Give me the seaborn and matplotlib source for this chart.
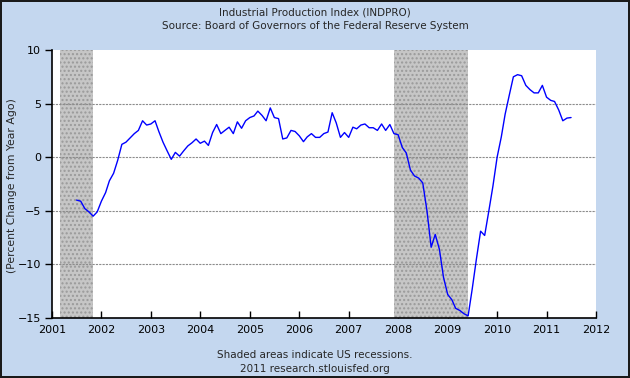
import matplotlib
matplotlib.use("Agg")
import matplotlib.pyplot as plt
import matplotlib.dates as mdates
import seaborn as sns
import pandas as pd

# -----------------------------
# Data: Industrial Production Index, % change from year ago (monthly, Jul 2001 - Jul 2011)
# -----------------------------
start_month = "2001-07-01"
pct_change = [
    # 2001 (Jul-Dec)
    -4.0, -4.1, -4.8, -5.1, -5.5, -5.1,
    # 2002
    -4.1, -3.3, -2.2, -1.5, -0.3, 1.2, 1.4, 1.8, 2.2, 2.5, 3.4, 3.0,
    # 2003
    3.1, 3.4, 2.4, 1.4, 0.6, -0.2, 0.45, 0.1, 0.6, 1.05, 1.35, 1.7,
    # 2004
    1.3, 1.5, 1.1, 2.3, 3.05, 2.2, 2.5, 2.8, 2.2, 3.3, 2.7, 3.4,
    # 2005
    3.7, 3.85, 4.3, 3.9, 3.4, 4.6, 3.7, 3.6, 1.7, 1.8, 2.5, 2.4,
    # 2006
    2.0, 1.45, 1.9, 2.2, 1.85, 1.85, 2.2, 2.35, 4.15, 3.2, 1.85, 2.3,
    # 2007
    1.85, 2.8, 2.65, 3.0, 3.1, 2.75, 2.75, 2.5, 3.1, 2.5, 3.05, 2.2,
    # 2008
    2.1, 0.9, 0.4, -1.2, -1.75, -1.95, -2.4, -5.0, -8.4, -7.2, -8.6, -11.2,
    # 2009
    -12.8, -13.3, -14.1, -14.3, -14.6, -14.8, -12.3, -9.5, -6.9, -7.3, -5.0, -2.7,
    # 2010
    0.0, 1.9, 4.0, 5.8, 7.5, 7.7, 7.6, 6.7, 6.3, 6.0, 6.0, 6.7,
    # 2011 (Jan-Jul)
    5.6, 5.3, 5.2, 4.4, 3.4, 3.65, 3.7,
]
recession_starts = ["2001-03-01", "2007-12-01"]
recession_ends = ["2001-11-01", "2009-06-01"]
year_ticks = list(range(2001, 2013))
y_ticks = [-15, -10, -5, 0, 5, 10]

df = pd.DataFrame({
    "date": pd.date_range(start_month, periods=len(pct_change), freq="MS"),
    "value": pct_change,
})

# -----------------------------
# Style
# -----------------------------
sns.set_style("white")
plt.rcParams["font.family"] = ["DejaVu Sans"]
bg = "#c4d7ef"

fig = plt.figure(figsize=(6.3, 3.78), dpi=100, facecolor=bg,
                 edgecolor="#1a1a1a", linewidth=1.5)
ax = fig.add_axes([0.0825, 0.1587, 0.8635, 0.709])
ax.set_facecolor("white")

# Recession shading
for s, e in zip(recession_starts, recession_ends):
    ax.axvspan(pd.Timestamp(s), pd.Timestamp(e), facecolor="#c6c6c6",
               edgecolor="#9a9a9a", hatch="....", linewidth=0, zorder=1)

# Grid lines
for yv in y_ticks[1:-1]:
    ax.axhline(yv, color="#8c8c8c", linestyle=(0, (2, 1)), linewidth=0.8, zorder=2)

sns.lineplot(data=df, x="date", y="value", color="#0000ff", linewidth=1.0,
             ax=ax, zorder=3)

ax.set_xlim(pd.Timestamp("2001-01-01"), pd.Timestamp("2012-01-01"))
ax.set_ylim(-15, 10)
ax.set_xticks([pd.Timestamp(f"{y}-01-01") for y in year_ticks])
ax.xaxis.set_major_formatter(mdates.DateFormatter("%Y"))
ax.set_yticks(y_ticks)

for side in ["top", "right"]:
    ax.spines[side].set_visible(False)
for side in ["left", "bottom"]:
    ax.spines[side].set_color("black")
    ax.spines[side].set_linewidth(1.2)

ax.tick_params(axis="x", direction="in", length=5, width=1, colors="black",
               labelsize=8, pad=5, bottom=True)
ax.tick_params(axis="y", direction="out", length=5, width=1, colors="black",
               labelsize=8, pad=3, left=True)

ax.set_xlabel("")
ax.set_ylabel("")
fig.text(0.019, 0.51, "(Percent Change from Year Ago)", rotation=90,
         ha="center", va="center", fontsize=7.8)

# Titles and footer
fig.text(0.5, 0.968, "Industrial Production Index (INDPRO)", ha="center",
         va="center", fontsize=7.5)
fig.text(0.5, 0.931, "Source: Board of Governors of the Federal Reserve System",
         ha="center", va="center", fontsize=7.5)
fig.text(0.5, 0.06, "Shaded areas indicate US recessions.", ha="center",
         va="center", fontsize=7.5)
fig.text(0.5, 0.024, "2011 research.stlouisfed.org", ha="center",
         va="center", fontsize=7.5)

fig.savefig("out.png", dpi=100, facecolor=fig.get_facecolor(),
            edgecolor=fig.get_edgecolor())
plt.close(fig)
